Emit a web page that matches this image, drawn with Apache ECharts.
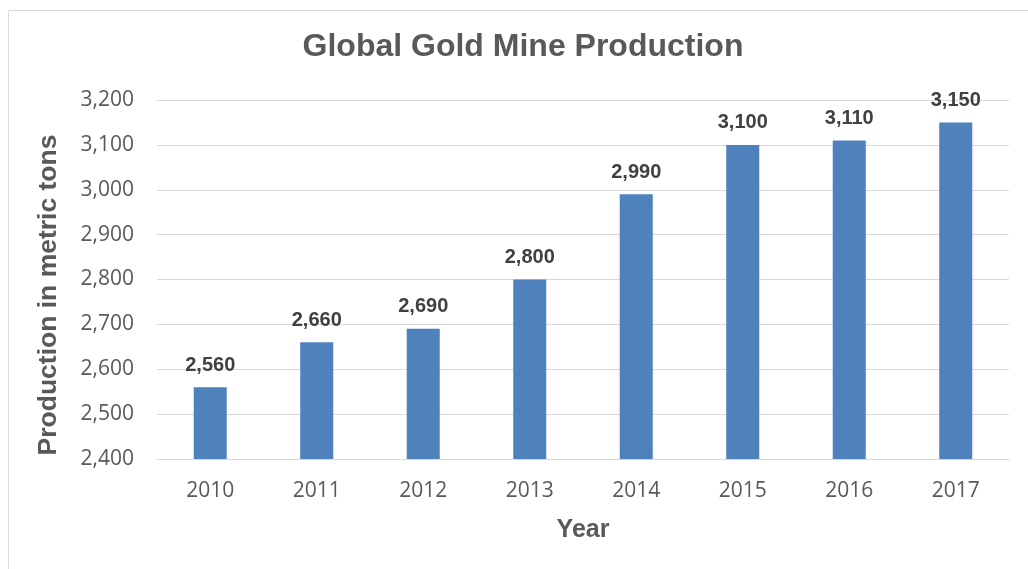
<!DOCTYPE html>
<html>
<head>
<meta charset="utf-8">
<title>Global Gold Mine Production</title>
<script src="https://cdn.jsdelivr.net/npm/echarts@6/dist/echarts.min.js"></script>
<style>
  html, body { margin: 0; padding: 0; background: #ffffff; }
  #chart { width: 1028px; height: 569px; }
</style>
</head>
<body>
<div id="chart"></div>
<script>
// Annual production figures (metric tons)
const years = ['2010', '2011', '2012', '2013', '2014', '2015', '2016', '2017'];
const production = [2560, 2660, 2690, 2800, 2990, 3100, 3110, 3150];

const yMin = 2400;
const yMax = 3200;
const yStep = 100;

const chart = echarts.init(document.getElementById('chart'), null, { renderer: 'canvas' });

const tickFont = '"Open Sans", "Liberation Sans", sans-serif';
const boldFont = '"Liberation Sans", Arial, sans-serif';

chart.setOption({
  backgroundColor: '#ffffff',
  animation: false,
  grid: { left: 157, right: 19, top: 100, bottom: 110, containLabel: false },
  graphic: [
    {
      type: 'rect',
      shape: { x: 8.5, y: 10.5, width: 1200, height: 1000 },
      style: { fill: 'none', stroke: '#d9d9d9', lineWidth: 1 },
      silent: true, z: -10
    },
    {
      type: 'text',
      x: 523, y: 47,
      style: {
        text: 'Global Gold Mine Production',
        font: 'bold 32px ' + boldFont,
        fill: '#595959',
        textAlign: 'center', textVerticalAlign: 'middle'
      }
    },
    {
      type: 'text',
      x: 583, y: 530,
      style: {
        text: 'Year',
        font: 'bold 25px ' + boldFont,
        fill: '#595959',
        textAlign: 'center', textVerticalAlign: 'middle'
      }
    },
    {
      type: 'text',
      x: 49, y: 295,
      rotation: Math.PI / 2,
      style: {
        text: 'Production in metric tons',
        font: 'bold 26.5px ' + boldFont,
        fill: '#595959',
        textAlign: 'center', textVerticalAlign: 'middle'
      }
    }
  ],
  xAxis: {
    type: 'category',
    data: years,
    axisLine: { show: true, lineStyle: { color: '#d9d9d9', width: 1 } },
    axisTick: { show: false },
    axisLabel: {
      margin: 22,
      fontSize: 21,
      fontFamily: tickFont,
      color: '#595959'
    },
    splitLine: { show: false }
  },
  yAxis: {
    type: 'value',
    min: yMin,
    max: yMax,
    interval: yStep,
    axisLine: { show: false },
    axisTick: { show: false },
    axisLabel: {
      margin: 23,
      fontSize: 21,
      fontFamily: tickFont,
      color: '#595959',
      formatter: v => v.toLocaleString('en-US')
    },
    splitLine: { show: true, lineStyle: { color: '#d9d9d9', width: 1 } }
  },
  series: [{
    type: 'bar',
    data: production,
    barWidth: '31%',
    itemStyle: { color: '#4f81bd' },
    label: {
      show: true,
      position: 'top',
      distance: 12,
      fontSize: 20,
      fontWeight: 'bold',
      fontFamily: boldFont,
      color: '#404040',
      formatter: p => p.value.toLocaleString('en-US')
    }
  }]
});
</script>
</body>
</html>
